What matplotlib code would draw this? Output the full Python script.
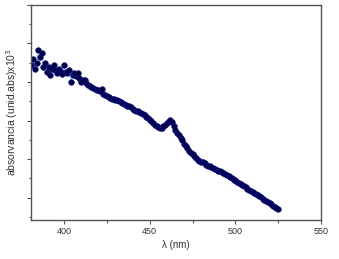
import matplotlib
matplotlib.use("Agg")
import matplotlib.pyplot as plt
from matplotlib.ticker import MultipleLocator, NullFormatter

plt.rcParams["font.family"] = ["Liberation Sans", "DejaVu Sans"]

# wavelength (nm), one point per nm
wavelength = list(range(381, 526))
# absorbance (arbitrary units x10^3)
absorbance = [
    8.90, 9.20, 8.70, 9.00, 9.65, 9.30, 9.50, 8.80, 9.00, 8.50,
    8.80, 8.35, 8.70, 8.90, 8.60, 8.45, 8.70, 8.50, 8.40, 8.90,
    8.50, 8.45, 8.60, 8.00, 8.35, 8.45, 8.30, 8.45, 8.20, 8.00,
    8.10, 8.10, 7.95,
    7.84, 7.80, 7.72, 7.68, 7.64, 7.60, 7.57, 7.55, 7.62, 7.38,
    7.32, 7.27, 7.21, 7.17, 7.14, 7.11, 7.08, 7.05, 7.00, 6.96,
    6.92, 6.88, 6.83, 6.78, 6.73, 6.68, 6.62, 6.56, 6.52, 6.48,
    6.45, 6.41, 6.35, 6.28, 6.21, 6.13, 6.05, 5.96, 5.86, 5.77,
    5.70, 5.64, 5.61, 5.63, 5.70, 5.78, 5.88, 5.98, 6.02, 5.92,
    5.72, 5.52, 5.38, 5.24, 5.09, 4.97, 4.78, 4.68, 4.56, 4.42,
    4.33, 4.24, 4.14, 4.06, 3.97, 3.88, 3.84, 3.86, 3.78, 3.71,
    3.66, 3.62, 3.58, 3.54, 3.50, 3.45, 3.40, 3.36, 3.31, 3.27,
    3.22, 3.18, 3.13, 3.06, 3.00, 2.94, 2.89, 2.83, 2.77, 2.71,
    2.65, 2.59, 2.53, 2.47, 2.42, 2.37, 2.31, 2.25, 2.19, 2.13,
    2.07, 2.01, 1.95, 1.89, 1.84, 1.78, 1.72, 1.66, 1.59, 1.53,
    1.47, 1.41,
]
x_ticks = [400, 450, 500, 550]

fig = plt.figure(figsize=(3.39, 2.59), dpi=100)
ax = fig.add_axes([0.0914, 0.1506, 0.8556, 0.8304])

ax.plot(wavelength, absorbance, color="#7fd0d0", lw=0.6, zorder=1)
ax.plot(wavelength, absorbance, ls="none", marker="o", ms=4.0,
        mfc="#000040", mec="#10108a", mew=0.5, zorder=2)

ax.set_xlim(380.7, 550)
ax.set_ylim(0.84, 12)
ax.set_xticks(x_ticks)
ax.xaxis.set_minor_locator(MultipleLocator(25))
ax.yaxis.set_major_locator(MultipleLocator(2))
ax.yaxis.set_minor_locator(MultipleLocator(1))
ax.yaxis.set_major_formatter(NullFormatter())

for s in ax.spines.values():
    s.set_color("#555555")
    s.set_linewidth(1.0)
ax.tick_params(which="major", direction="out", length=3, width=0.8,
               color="#555555", labelsize=6.5, labelcolor="#333333", pad=2)
ax.tick_params(which="minor", direction="out", length=1.8, width=0.8, color="#555555")

ax.set_xlabel("\u03bb (nm)", fontsize=7, color="#333333", labelpad=3)
ax.set_ylabel("absorvancia (unid.abs)x10$^3$", fontsize=7.5, color="#333333", labelpad=3)

fig.savefig("out.png", dpi=100)
